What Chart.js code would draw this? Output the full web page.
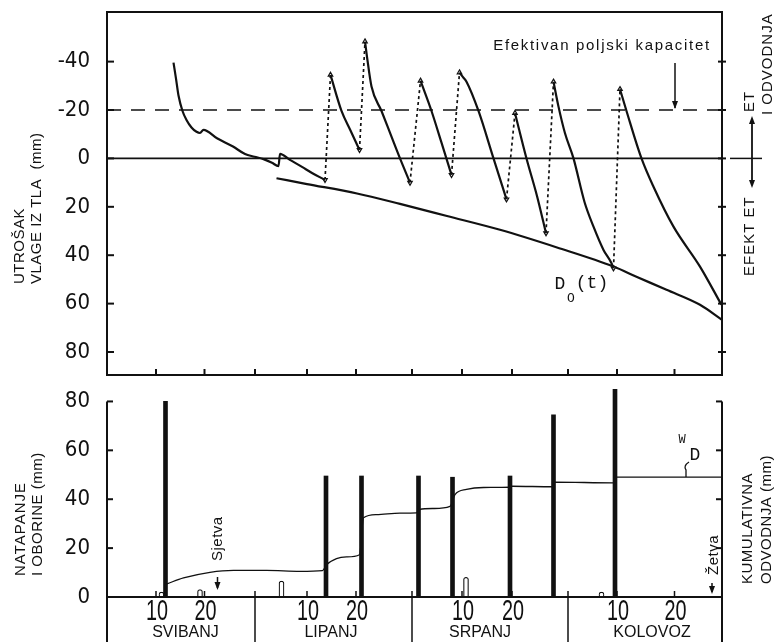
<!DOCTYPE html>
<html><head><meta charset="utf-8">
<script src="https://cdn.jsdelivr.net/npm/chart.js@4.4.0/dist/chart.umd.min.js"></script>
<style>
html,body{margin:0;padding:0;background:#fff;}
#wrap{position:relative;width:779px;height:642px;background:#fff;}
canvas{position:absolute;left:0;top:0;}
</style></head><body>
<div id="wrap"><canvas id="cTop" width="779" height="642"></canvas><canvas id="cBot" width="779" height="642"></canvas></div>
<script>
// ---------- data (x = days from start of May, as drawn) ----------
const monthNames   = ['SVIBANJ', 'LIPANJ', 'SRPANJ', 'KOLOVOZ'];
const monthCenters = [15.7, 44.8, 74.6, 109];
const monthBounds  = [29.6, 61, 92.2];
const dayTickPos    = [9.8, 19.5, 40, 49.8, 71, 81, 102, 113.5];
const dayTickLabels = ['10', '20', '10', '20', '10', '20', '10', '20'];
const topYTicks = [-40, -20, 0, 20, 40, 60, 80];
const botYTicks = [0, 20, 40, 60, 80];

// soil moisture use curve (mm, negative = above field capacity); null = irrigation jump
const etDay = [13.3, 13.8, 14.3, 15.1, 15.9, 16.9, 17.9, 18.6, 19.3, 22, 25.2, 27.6, 29.5, 31.3, 33, 34.3, 34.6, 36.5, 39, 41, 43.6, null,
               44.7, 46.9, 48.7, 50.5, null,
               51.6, 52.0, 52.9, 54.9, 56.8, 58.6, 60.6, null,
               62.7, 64.9, 66.9, 68.9, null,
               70.5, 71.2, 71.9, 74.3, 77.3, 79.9, null,
               81.6, 83.9, 86, 87.8, null,
               89.3, 90.3, 91.6, 93.3, 95.5, 97.3, 99.3, 100.9, 101.3, null,
               102.6, 103.9, 106.9, 109.3, 113.3, 118.6, 122.9];
const etDeficit = [-39.6, -33, -26, -19.6, -15.9, -12.8, -11, -10.5, -11.8, -8.3, -4.9, -1.8, -0.7, 0.3, 1.8, 3.2, -1.9, 0.5, 3.5, 6, 8.9, null,
               -34.5, -19.6, -11.5, -3.5, null,
               -48.3, -42, -29.7, -19.6, -9.5, 0, 10, null,
               -32.1, -19.6, -6.5, 6.8, null,
               -35.5, -33.6, -31.7, -19.6, 0, 16.9, null,
               -18.7, 0, 15.5, 30.9, null,
               -31.7, -21.4, -10.4, 0, 18, 28.2, 37.8, 43.3, 45.4, null,
               -28.6, -19.6, 0, 11.7, 28.2, 44.7, 60.5];
// D0(t) curve
const d0Day = [33.9, 40, 50, 58.6, 68, 78.6, 90, 101.3, 106, 111.9, 118.6, 123];
const d0Val = [8.2, 10.6, 14.5, 18.8, 23.8, 29.5, 36.8, 44.7, 49, 54.3, 60.5, 66.7];
const fieldCapacity = -20;
const axisX = [0, 123];

// irrigation (black bars) and rain (hollow bars), mm
const irrDay = [11.7, 43.8, 50.9, 62.3, 69.1, 80.6, 89.3, 101.6];
const irrMm  = [80, 49.5, 49.5, 49.5, 49, 49.5, 74.5, 85];
const rainDay = [10.9, 18.6, 34.9, 71.8, 98.9];
const rainMm  = [2, 3, 6.5, 8, 2];
// cumulative drainage W_D
const wdDay = [12, 15.3, 20.6, 25.3, 31.9, 38.6, 43.1, 43.9, 45.9, 47.9, 50.5, 51.3, 53.9, 58.6, 61.9, 62.5, 65.3, 68.6, 69.6, 71.9, 75.3, 80.6, 81, 89.1, 89.6, 101.3, 101.9, 123];
const wdMm  = [5.4, 7.8, 10.1, 10.9, 10.9, 10.5, 10.8, 13.2, 15.7, 16.4, 17.3, 32.4, 33.7, 34.3, 34.4, 35.8, 36.2, 37.1, 41.9, 44, 44.8, 44.9, 45.3, 45.1, 47, 46.7, 49, 49];

// ---------- build ----------
const INK = '#111111';
const NUM_FONT = '"Liberation Sans Narrow", "DejaVu Sans Condensed", "Liberation Sans", sans-serif';
const SANS = '"Liberation Sans", Arial, sans-serif';
const pts = (xs, ys) => xs.map((x, i) => ({x: x === null ? xs[i - 1] : x, y: ys[i]}));
const etPoints = pts(etDay, etDeficit);
const jumpPoints = [];
etDay.forEach((d, i) => {
  if (d === null) {
    jumpPoints.push({x: etDay[i - 1], y: etDeficit[i - 1], end: 'low'}, {x: etDay[i + 1], y: etDeficit[i + 1], end: 'high'}, {x: etDay[i + 1], y: null});
  }
});

function txt(ctx, s, x, y, o) {
  ctx.save();
  ctx.translate(x, y);
  if (o.rot) ctx.rotate(o.rot);
  if (o.sx) ctx.scale(o.sx, 1);
  ctx.font = o.font;
  ctx.textAlign = o.align || 'center';
  ctx.textBaseline = o.base || 'middle';
  if ('letterSpacing' in ctx) ctx.letterSpacing = (o.ls || 0) + 'px';
  ctx.fillStyle = INK;
  ctx.fillText(s, 0, 0);
  ctx.restore();
}
function line(ctx, x1, y1, x2, y2, w) {
  ctx.beginPath(); ctx.lineWidth = w || 1.5; ctx.strokeStyle = INK;
  ctx.moveTo(x1, y1); ctx.lineTo(x2, y2); ctx.stroke();
}
function head(ctx, x, y, dir) { // dir 1 = pointing down, -1 = up
  ctx.beginPath(); ctx.fillStyle = INK;
  ctx.moveTo(x, y); ctx.lineTo(x - 3, y - 8 * dir); ctx.lineTo(x + 3, y - 8 * dir); ctx.closePath(); ctx.fill();
}
const R = -Math.PI / 2;

const topDecor = {
  id: 'topDecor',
  afterDraw(chart) {
    const {ctx, chartArea: a, scales: {x, y}} = chart;
    ctx.save();
    ctx.lineWidth = 2; ctx.strokeStyle = INK;
    ctx.strokeRect(a.left, a.top, a.right - a.left, a.bottom - a.top);
    topYTicks.forEach(v => {
      const py = y.getPixelForValue(v);
      line(ctx, a.left, py, a.left + 7, py, 2);
      line(ctx, a.right - 4, py, a.right + 4, py, 2);
    });
    dayTickPos.concat(monthBounds).forEach(d => {
      const px = x.getPixelForValue(d);
      line(ctx, px, a.bottom, px, a.bottom - 6, 2);
    });
    // annotations
    txt(ctx, 'Efektivan poljski kapacitet', 602, 46, {font: '15px ' + SANS, ls: 1.7});
    const fcY = y.getPixelForValue(fieldCapacity);
    line(ctx, 675, 63, 675, fcY - 2, 1.5); head(ctx, 675, fcY - 1, 1);
    const zy = y.getPixelForValue(0);
    line(ctx, 730, zy, 762, zy, 1.5);
    line(ctx, 752, 119, 752, 185, 1.8); head(ctx, 752, 116, -1); head(ctx, 752, 188, 1);
    txt(ctx, 'ET', 750, 112, {font: '15px ' + SANS, rot: R, align: 'left', ls: 1});
    txt(ctx, 'I ODVODNJA', 768, 115, {font: '15px ' + SANS, rot: R, align: 'left', ls: 1});
    txt(ctx, 'EFEKT ET', 750, 276, {font: '15px ' + SANS, rot: R, align: 'left', ls: 1});
    txt(ctx, 'UTROŠAK', 20, 284, {font: '15px ' + SANS, rot: R, align: 'left', ls: 0.5});
    txt(ctx, 'VLAGE IZ TLA  (mm)', 37, 284, {font: '15px ' + SANS, rot: R, align: 'left', ls: 0.5});
    txt(ctx, 'D', 560, 284, {font: '18px "Liberation Mono", monospace'});
    txt(ctx, 'O', 571, 299, {font: '13px "Liberation Mono", monospace'});
    txt(ctx, '(t)', 592, 283, {font: '18px "Liberation Mono", monospace'});
    ctx.restore();
  }
};

const botDecor = {
  id: 'botDecor',
  afterDraw(chart) {
    const {ctx, chartArea: a, scales: {x, y}} = chart;
    ctx.save();
    const y0 = y.getPixelForValue(0), y80 = y.getPixelForValue(80);
    line(ctx, a.left, y0, a.right, y0, 2);
    line(ctx, a.left, y80, a.left, 642, 2);
    line(ctx, a.right, y80, a.right, 642, 2);
    botYTicks.forEach(v => {
      const py = y.getPixelForValue(v);
      line(ctx, a.left, py, a.left + 6, py, 2);
      line(ctx, a.right - 6, py, a.right, py, 2);
    });
    monthBounds.forEach(d => {
      const px = x.getPixelForValue(d);
      line(ctx, px, y0 - 6, px, 642, 1.5);
    });
    dayTickPos.forEach((d, i) => {
      const px = x.getPixelForValue(d);
      line(ctx, px, y0 - 6, px, y0, 1.5);
      txt(ctx, dayTickLabels[i], px + 1, 612, {font: '30px ' + SANS, sx: 0.66});
    });
    txt(ctx, 'NATAPANJE', 21, 576, {font: '15px ' + SANS, rot: R, align: 'left', ls: 1});
    txt(ctx, 'I OBORINE (mm)', 38, 576, {font: '15px ' + SANS, rot: R, align: 'left', ls: 0.5});
    txt(ctx, 'KUMULATIVNA', 748, 584, {font: '15px ' + SANS, rot: R, align: 'left', ls: 0.5});
    txt(ctx, 'ODVODNJA (mm)', 767, 584, {font: '15px ' + SANS, rot: R, align: 'left', ls: 0.5});
    txt(ctx, 'Sjetva', 218, 561, {font: '15px ' + SANS, rot: R, align: 'left', ls: 0.5});
    line(ctx, 217.5, 577, 217.5, 588, 1.5); head(ctx, 217.5, 590, 1);
    txt(ctx, 'Žetva', 714, 575, {font: '15px ' + SANS, rot: R, align: 'left', ls: 0.5});
    line(ctx, 712, 583, 712, 592, 1.5); head(ctx, 712, 594, 1);
    txt(ctx, 'W', 682, 440, {font: '12px "Liberation Mono", monospace'});
    txt(ctx, 'D', 695, 455, {font: '18px "Liberation Mono", monospace'});
    ctx.beginPath(); ctx.lineWidth = 1.3; ctx.strokeStyle = INK;
    ctx.moveTo(689, 462); ctx.quadraticCurveTo(683, 466, 686, 470); ctx.lineTo(686, 477); ctx.stroke();
    ctx.restore();
  }
};

const common = {
  responsive: false, animation: false, events: [],
  plugins: {legend: {display: false}, tooltip: {enabled: false}},
};
const zeroPad = s => { s.paddingTop = 0; s.paddingBottom = 0; s.paddingLeft = 0; s.paddingRight = 0; };

new Chart(document.getElementById('cTop'), {
  type: 'line',
  data: {datasets: [
    {data: etPoints, borderColor: INK, borderWidth: 2.2, pointRadius: 0, spanGaps: false, cubicInterpolationMode: 'monotone'},
    {data: jumpPoints, borderColor: INK, borderWidth: 1.7, borderDash: [3, 3], spanGaps: false,
     pointStyle: 'triangle', pointRadius: c => (c.raw && c.raw.y !== null ? 2.6 : 0),
     pointRotation: c => (c.raw && c.raw.end === 'low' ? 180 : 0),
     pointBackgroundColor: '#fff', pointBorderColor: INK, pointBorderWidth: 1.2},
    {data: pts(d0Day, d0Val), borderColor: INK, borderWidth: 2.2, pointRadius: 0, cubicInterpolationMode: 'monotone'},
    {data: pts(axisX, [fieldCapacity, fieldCapacity]), borderColor: INK, borderWidth: 1.6, borderDash: [14, 10], pointRadius: 0},
    {data: pts(axisX, [0, 0]), borderColor: INK, borderWidth: 1.6, pointRadius: 0}
  ]},
  options: Object.assign({}, common, {
    layout: {padding: {left: 0, top: 12, right: 57, bottom: 267}},
    scales: {
      x: {type: 'linear', min: 0, max: 123, display: false},
      y: {type: 'linear', reverse: true, min: -60.5, max: 89.5,
          afterBuildTicks: s => { s.ticks = topYTicks.map(v => ({value: v})); },
          afterFit: s => { s.width = 107; zeroPad(s); },
          grid: {display: false, drawTicks: false}, border: {display: false},
          ticks: {padding: 17, color: INK, font: {family: NUM_FONT, size: 22}, callback: v => String(v)}}
    }
  }),
  plugins: [topDecor]
});

new Chart(document.getElementById('cBot'), {
  type: 'bar',
  data: {datasets: [
    {type: 'bar', data: pts(irrDay, irrMm), backgroundColor: INK, barThickness: 4, grouped: false},
    {type: 'bar', data: pts(rainDay, rainMm), backgroundColor: '#fff', borderColor: INK, borderWidth: 1.2,
     borderSkipped: 'bottom', borderRadius: {topLeft: 2.5, topRight: 2.5}, barThickness: 5, grouped: false},
    {type: 'line', data: pts(wdDay, wdMm), borderColor: INK, borderWidth: 1.3, pointRadius: 0, cubicInterpolationMode: 'monotone'}
  ]},
  options: Object.assign({}, common, {
    layout: {padding: {left: 0, top: 377, right: 57, bottom: 0}},
    scales: {
      x: {type: 'linear', min: 0, max: 123, offset: false, position: 'bottom', weight: 0,
          afterBuildTicks: s => { s.ticks = dayTickPos.map(v => ({value: v})); },
          afterFit: s => { s.height = 25; zeroPad(s); },
          grid: {display: false, drawTicks: false}, border: {display: false},
          ticks: {display: false}},
      xm: {type: 'linear', min: 0, max: 123, offset: false, position: 'bottom', weight: 1,
          afterBuildTicks: s => { s.ticks = monthCenters.map(v => ({value: v})); },
          afterFit: s => { s.height = 20; zeroPad(s); },
          grid: {display: false, drawTicks: false}, border: {display: false},
          ticks: {autoSkip: false, maxRotation: 0, padding: 1, color: INK, font: {family: SANS, size: 16},
                  callback: (v, i) => monthNames[i]}},
      y: {type: 'linear', min: 0, max: 90,
          afterBuildTicks: s => { s.ticks = botYTicks.map(v => ({value: v})); },
          afterFit: s => { s.width = 107; zeroPad(s); },
          grid: {display: false, drawTicks: false}, border: {display: false},
          ticks: {padding: 17, color: INK, font: {family: NUM_FONT, size: 22}, callback: v => String(v)}}
    }
  }),
  plugins: [botDecor]
});
</script>
</body></html>
